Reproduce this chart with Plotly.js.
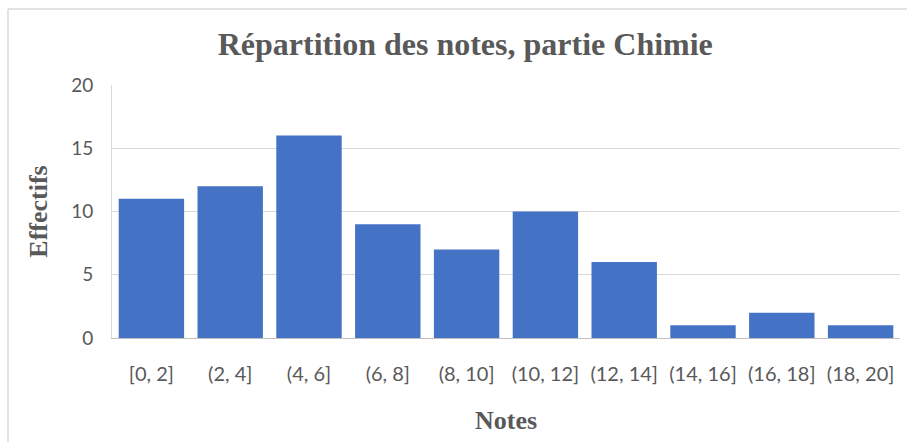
<!DOCTYPE html>
<html>
<head>
<meta charset="utf-8">
<script src="https://cdn.plot.ly/plotly-3.0.1.min.js"></script>
<style>
  html, body { margin: 0; padding: 0; background: #ffffff; }
  #chart { width: 907px; height: 442px; }
</style>
</head>
<body>
<div id="chart"></div>
<script>
const categories = ["[0, 2]", "(2, 4]", "(4, 6]", "(6, 8]", "(8, 10]", "(10, 12]", "(12, 14]", "(14, 16]", "(16, 18]", "(18, 20]"];
const effectifs = [11, 12, 16, 9, 7, 10, 6, 1, 2, 1];
const yTicks = [0, 5, 10, 15, 20];

const serif = "Liberation Serif, Times New Roman, serif";
const sans = "Lato, Carlito, Calibri, sans-serif";
const textGray = "#595959";

const trace = {
  type: "bar",
  x: categories,
  y: effectifs,
  marker: { color: "#4472C4", line: { width: 0 } },
  hoverinfo: "x+y"
};

const layout = {
  width: 907,
  height: 442,
  margin: { l: 112, r: 7, t: 85, b: 104 },
  paper_bgcolor: "#ffffff",
  plot_bgcolor: "#ffffff",
  showlegend: false,
  bargap: 0.17,
  title: {
    text: "<b>Répartition des notes, partie Chimie</b>",
    font: { family: serif, size: 32, color: textGray },
    x: 0.513, xanchor: "center",
    y: 0.9, yref: "container", yanchor: "middle"
  },
  xaxis: {
    type: "category",
    showgrid: false,
    showline: true,
    linecolor: "#BFBFBF",
    linewidth: 1,
    ticks: "",
    tickfont: { family: sans, size: 20, color: textGray },
    ticklabelstandoff: 18,
    title: {
      text: "<b>Notes</b>",
      font: { family: serif, size: 26, color: textGray },
      standoff: 26
    }
  },
  yaxis: {
    range: [0, 20],
    tickvals: yTicks,
    ticktext: yTicks.map(String),
    showgrid: true,
    gridcolor: "#D9D9D9",
    gridwidth: 1,
    zeroline: false,
    showline: true,
    linecolor: "#D9D9D9",
    ticks: "",
    tickfont: { family: sans, size: 19, color: textGray },
    ticklabelstandoff: 14,
    title: {
      text: "<b>Effectifs</b>",
      font: { family: serif, size: 26, color: textGray },
      standoff: 16
    }
  },
  shapes: [
    { type: "line", xref: "paper", yref: "paper",
      x0: (8 - 112) / 788, x1: (907 - 112) / 788,
      y0: (338 - 9) / 253, y1: (338 - 9) / 253,
      line: { color: "#D9D9D9", width: 1.5 } },
    { type: "line", xref: "paper", yref: "paper",
      x0: (8 - 112) / 788, x1: (8 - 112) / 788,
      y0: (338 - 9) / 253, y1: (338 - 442) / 253,
      line: { color: "#D9D9D9", width: 1.5 } }
  ]
};

Plotly.newPlot("chart", [trace], layout, { displayModeBar: false, staticPlot: true });
</script>
</body>
</html>
